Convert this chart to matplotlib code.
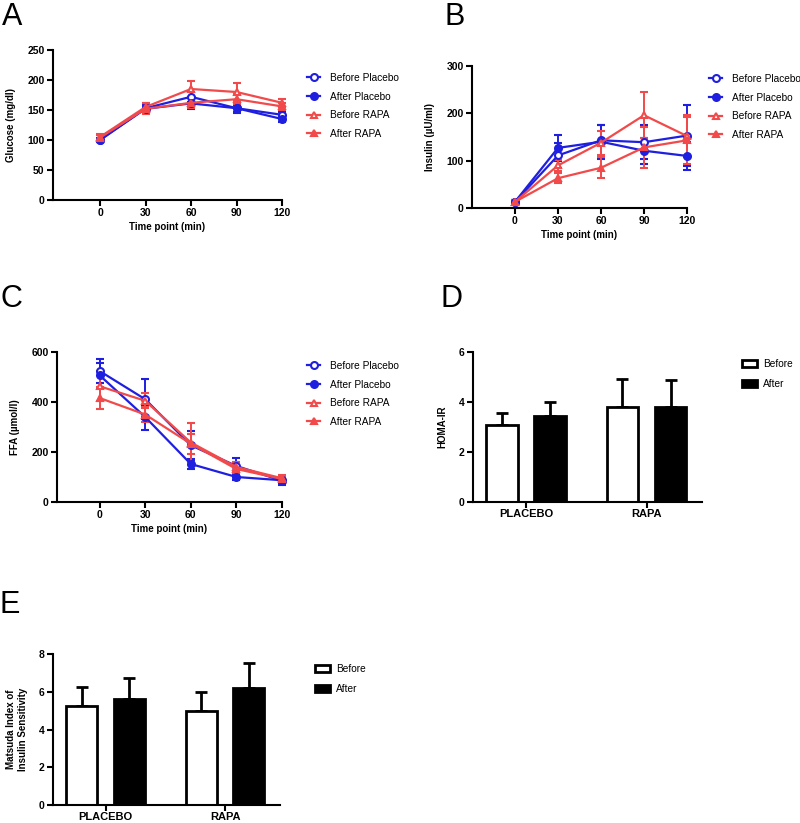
import numpy as np
import matplotlib
matplotlib.use("Agg")
import matplotlib.pyplot as plt
from matplotlib.patches import Patch

plt.rcParams['font.family'] = ['Liberation Sans', 'DejaVu Sans']

# ---- data ----
time = [0, 30, 60, 90, 120]
series_names = ["Before Placebo", "After Placebo", "Before RAPA", "After RAPA"]

glu_before_pla = [100, 153, 172, 153, 142]
glu_after_pla = [100, 152, 161, 153, 135]
glu_before_rapa = [105, 155, 185, 180, 162]
glu_after_rapa = [104, 152, 162, 168, 156]
glu_err = [[4, 6, 8, 6, 5], [4, 5, 10, 8, 5], [5, 7, 13, 15, 7], [5, 9, 8, 8, 6]]

ins_before_pla = [13, 111, 143, 139, 153]
ins_after_pla = [13, 127, 140, 121, 110]
ins_before_rapa = [13, 90, 138, 196, 152]
ins_after_rapa = [13, 63, 85, 128, 143]
ins_err = [[3, 27, 33, 36, 64], [3, 28, 36, 27, 29], [3, 12, 25, 49, 44], [3, 10, 22, 44, 50]]

ffa_before_pla = [524, 411, 227, 144, 85]
ffa_after_pla = [507, 340, 152, 100, 87]
ffa_before_rapa = [463, 405, 238, 140, 95]
ffa_after_rapa = [416, 350, 233, 132, 92]
ffa_err = [[48, 80, 57, 33, 15], [50, 50, 20, 10, 10], [60, 30, 78, 20, 12], [45, 30, 40, 15, 10]]

groups = ["PLACEBO", "RAPA"]
homa_before = [3.09, 3.79]
homa_after = [3.43, 3.79]
homa_before_err = [0.47, 1.14]
homa_after_err = [0.57, 1.10]

matsuda_before = [5.26, 4.98]
matsuda_after = [5.60, 6.18]
matsuda_before_err = [1.01, 1.02]
matsuda_after_err = [1.15, 1.33]

BLUE = '#1f1fe0'
RED = '#f24a4a'
W, H = 800, 823

fig = plt.figure(figsize=(8, 8.23), dpi=100)


def px_axes(x0, y0, x1, y1):
    # pixel box (top-left origin) -> figure axes
    return fig.add_axes([x0 / W, 1 - y1 / H, (x1 - x0) / W, (y1 - y0) / H])


def style(ax, xsize=7.5, xpad=2):
    for s in ['top', 'right']:
        ax.spines[s].set_visible(False)
    for s in ['left', 'bottom']:
        ax.spines[s].set_linewidth(1.5)
    ax.tick_params(width=1.5, length=4, labelsize=7.5, pad=2)
    ax.tick_params(axis='x', labelsize=xsize, pad=xpad)
    for lab in ax.get_xticklabels() + ax.get_yticklabels():
        lab.set_fontweight('bold')


def line_panel(ax, ys, errs, ylim, yticks, ylabel, xmin):
    styles = [(BLUE, 'o', 'white'), (BLUE, 'o', BLUE), (RED, '^', 'white'), (RED, '^', RED)]
    handles = []
    for y, e, (c, m, fc), name in zip(ys, errs, styles, series_names):
        ms = 5 if m == 'o' else 4.5
        ax.errorbar(time, y, yerr=e, color=c, ecolor=c, lw=1.6, elinewidth=1.4,
                    capsize=3, capthick=1.4, marker=m, ms=ms,
                    mfc=fc, mec=c, mew=1.5, clip_on=False)
        h, = ax.plot([], [], color=c, lw=1.6, marker=m, ms=ms,
                     mfc=fc, mec=c, mew=1.5)
        handles.append(h)
    ax.set_xlim(xmin, 120)
    ax.set_ylim(*ylim)
    ax.set_xticks(time)
    ax.set_yticks(yticks)
    ax.set_ylabel(ylabel, fontsize=7, fontweight='bold', labelpad=8)
    ax.set_xlabel("Time point (min)", fontsize=7, fontweight='bold', labelpad=3)
    style(ax)
    return handles


def bar_panel(ax, before, after, be, ae, ylim, yticks, ylabel):
    x = np.arange(len(groups))
    off, wd = 0.2, 0.26
    ax.bar(x - off, before, wd, color='white', edgecolor='black', lw=2, zorder=2)
    ax.bar(x + off, after, wd, color='black', edgecolor='black', lw=2, zorder=2)
    ax.errorbar(x - off, before, yerr=[np.zeros(len(be)), be], fmt='none',
                ecolor='black', elinewidth=2, capsize=4, capthick=2, zorder=1)
    ax.errorbar(x + off, after, yerr=[np.zeros(len(ae)), ae], fmt='none',
                ecolor='black', elinewidth=2, capsize=4, capthick=2, zorder=1)
    ax.set_xlim(-0.44, 1.46)
    ax.set_ylim(*ylim)
    ax.set_xticks(x)
    ax.set_xticklabels(groups)
    ax.set_yticks(yticks)
    ax.set_ylabel(ylabel, fontsize=7, fontweight='bold', labelpad=8)
    style(ax, xsize=8, xpad=1)
    return [Patch(facecolor='white', edgecolor='black', lw=2),
            Patch(facecolor='black', edgecolor='black', lw=2)]


def legend(ax, handles, labels, x, y, bar=False):
    ax.legend(handles, labels, loc='upper left', bbox_to_anchor=(x / W, 1 - y / H),
              bbox_transform=fig.transFigure, frameon=False, fontsize=7.3,
              borderpad=0, labelspacing=0.85 if not bar else 1.0,
              handlelength=1.3 if not bar else 1.5, handleheight=0.75,
              handletextpad=1.0 if not bar else 0.6)


# A - glucose
axA = px_axes(53, 50, 282, 200)
h = line_panel(axA, [glu_before_pla, glu_after_pla, glu_before_rapa, glu_after_rapa],
               glu_err, (0, 250), range(0, 251, 50), "Glucose (mg/dl)", -31)
legend(axA, h, series_names, 302, 68)

# B - insulin
axB = px_axes(472, 66, 687, 208)
h = line_panel(axB, [ins_before_pla, ins_after_pla, ins_before_rapa, ins_after_rapa],
               ins_err, (0, 300), range(0, 301, 100), "Insulin (\u00b5U/ml)", -30)
legend(axB, h, series_names, 704, 69)

# C - FFA
axC = px_axes(57, 352, 282, 502)
h = line_panel(axC, [ffa_before_pla, ffa_after_pla, ffa_before_rapa, ffa_after_rapa],
               ffa_err, (0, 600), range(0, 601, 200), "FFA (\u00b5mol/l)", -28)
legend(axC, h, series_names, 302, 356)

# D - HOMA-IR
axD = px_axes(473, 352, 702, 502)
h = bar_panel(axD, homa_before, homa_after, homa_before_err, homa_after_err,
              (0, 6), range(0, 7, 2), "HOMA-IR")
legend(axD, h, ["Before", "After"], 737, 354, bar=True)

# E - Matsuda
axE = px_axes(53, 654, 280, 805)
h = bar_panel(axE, matsuda_before, matsuda_after, matsuda_before_err, matsuda_after_err,
              (0, 8), range(0, 9, 2), "Matsuda Index of\nInsulin Sensitivity")
legend(axE, h, ["Before", "After"], 310, 659, bar=True)

# panel letters
for letter, (x, y) in zip("ABCDE", [(2, 25), (444, 25), (0, 307), (440, 307), (0, 613)]):
    fig.text(x / W, 1 - y / H, letter, fontsize=22, va='baseline', ha='left')

fig.savefig("out.png", dpi=100)
